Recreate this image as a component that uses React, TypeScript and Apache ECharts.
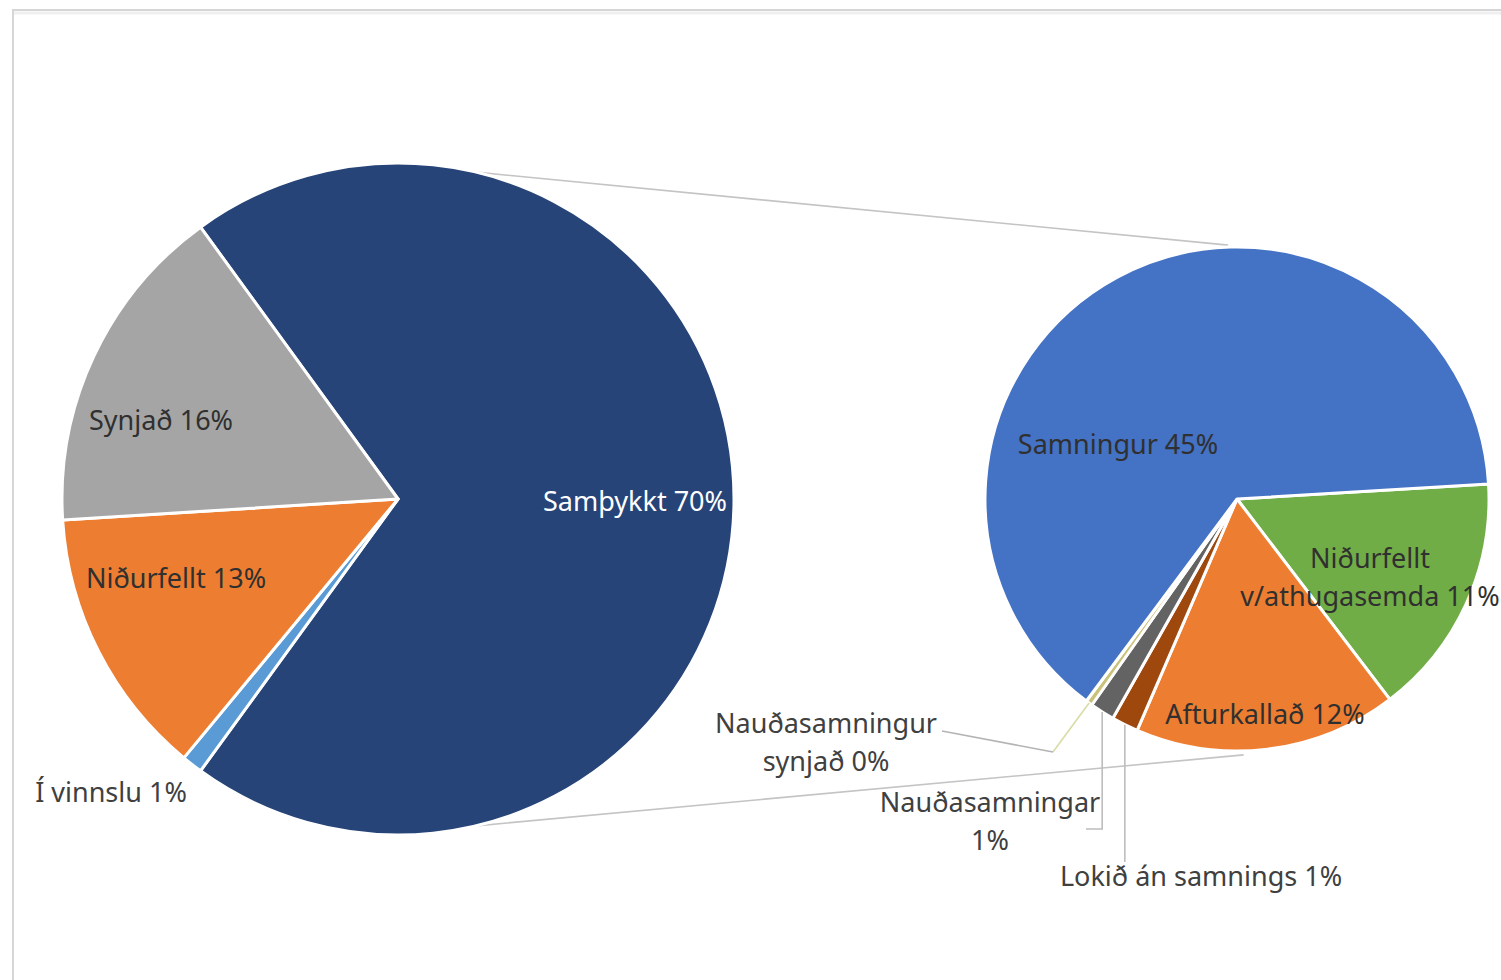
import React, { useEffect, useRef } from 'react';
import * as echarts from 'echarts';

// ---------- data ----------
const mainCategories = ['Samþykkt', 'Í vinnslu', 'Niðurfellt', 'Synjað'];
const mainValues = [70, 1, 13, 16];

const subCategories = [
  'Niðurfellt v/athugasemda',
  'Afturkallað',
  'Lokið án samnings',
  'Nauðasamningar',
  'Nauðasamningur synjað',
  'Samningur',
];
const subValues = [10.9, 11.8, 1.2, 1.1, 0.3, 44.7];

// label line breaks (display text)
const labelText: Record<string, string> = {
  'Niðurfellt v/athugasemda': 'Niðurfellt\nv/athugasemda {p}',
  'Nauðasamningar': 'Nauðasamningar\n{p}',
  'Nauðasamningur synjað': 'Nauðasamningur\nsynjað {p}',
};

// ---------- style / layout ----------
const mainColors = ['#264478', '#5B9BD5', '#ED7D31', '#A5A5A5'];
const subColors = ['#70AD47', '#ED7D31', '#9E480E', '#636363', '#C9C27A', '#4472C4'];
const mainLabelColors = ['#ffffff', '#404040', '#303030', '#303030'];
const subLabelColors = ['#303030', '#303030', '#404040', '#404040', '#404040', '#303030'];

const mainCenter = [398, 499];
const mainR = 336;
const mainStart = 126;
const subCenter = [1237, 499];
const subR = 252;
const subStart = 3.4;

const mainLabelPos = [
  [635, 500],
  [111, 791],
  [176, 577],
  [161, 419],
];
const subLabelPos = [
  [1370, 576],
  [1265, 713],
  [1201, 875],
  [990, 820],
  [826, 741],
  [1118, 443],
];

const FONT = '"Noto Sans", "Open Sans", sans-serif';
const FS = 27;

function midAngles(values: number[], start: number) {
  const total = values.reduce((a, b) => a + b, 0);
  let a = start;
  return values.map((v) => {
    const span = (v / total) * 360;
    const mid = a - span / 2;
    a -= span;
    return mid;
  });
}

function polar(c: number[], r: number, deg: number) {
  const t = (deg * Math.PI) / 180;
  return [c[0] + r * Math.cos(t), c[1] - r * Math.sin(t)];
}

function fmt(name: string, value: number) {
  const p = Math.round(value) + '%';
  const tpl = labelText[name];
  return tpl ? tpl.replace('{p}', p) : name + ' ' + p;
}

const App = () => {
  const ref = useRef<HTMLDivElement>(null);
  useEffect(() => {
    const chart = echarts.init(ref.current!, null, { renderer: 'svg' });

    const subMids = midAngles(subValues, subStart);
    const rimSynjad = polar(subCenter, subR, subMids[4]);
    const rimNaud = polar(subCenter, subR, subMids[3]);
    const rimLokid = polar(subCenter, subR, subMids[2]);

    // connector lines between pies
    const topL = polar(mainCenter, mainR, 76.6);
    const topR = polar(subCenter, subR + 2, 92);
    const botL = polar(mainCenter, mainR, -76.6);
    const botR = polar(subCenter, subR + 4, -88.5);

    const lineStyle = { stroke: '#c4c4c4', lineWidth: 1.6, fill: null };

    const option: any = {
      animation: false,
      backgroundColor: '#ffffff',
      textStyle: { fontFamily: FONT },
      graphic: [
        {
          type: 'rect',
          z: -10,
          shape: { x: 13, y: 10, width: 1600, height: 1000 },
          style: { fill: '#ffffff', stroke: '#d6d6d6', lineWidth: 2 },
        },
        {
          type: 'line',
          z: -9,
          shape: { x1: 14, y1: 13, x2: 1501, y2: 13 },
          style: { stroke: '#efefef', lineWidth: 3 },
        },
        { type: 'line', z: 1, shape: { x1: topL[0], y1: topL[1], x2: topR[0], y2: topR[1] }, style: lineStyle },
        { type: 'line', z: 1, shape: { x1: botL[0], y1: botL[1], x2: botR[0], y2: botR[1] }, style: lineStyle },
        {
          type: 'polyline',
          z: 5,
          shape: { points: [rimSynjad, [1053, 752]] },
          style: { stroke: '#d9dca4', lineWidth: 1.6, fill: null },
        },
        {
          type: 'polyline',
          z: 5,
          shape: { points: [[1053, 752], [942, 731]] },
          style: { stroke: '#b4b4b4', lineWidth: 1.6, fill: null },
        },
        {
          type: 'polyline',
          z: 5,
          shape: { points: [rimNaud, [rimNaud[0], 829], [1086, 829]] },
          style: { stroke: '#bdbdbd', lineWidth: 1.6, fill: null },
        },
        {
          type: 'polyline',
          z: 5,
          shape: { points: [rimLokid, [rimLokid[0], 862]] },
          style: { stroke: '#bdbdbd', lineWidth: 1.6, fill: null },
        },
      ],
      series: [
        {
          type: 'pie',
          name: 'main',
          center: mainCenter,
          radius: mainR,
          startAngle: mainStart,
          clockwise: true,
          avoidLabelOverlap: false,
          silent: true,
          itemStyle: { borderColor: '#ffffff', borderWidth: 3 },
          label: {
            show: true,
            position: 'inside',
            fontFamily: FONT,
            fontSize: FS,
            lineHeight: 38,
            formatter: (p: any) => fmt(p.name, p.value),
          },
          labelLine: { show: false },
          labelLayout: (params: any) => {
            const pos = mainLabelPos[params.dataIndex];
            return { x: pos[0], y: pos[1], align: 'center', verticalAlign: 'middle' };
          },
          data: mainCategories.map((n, i) => ({
            name: n,
            value: mainValues[i],
            itemStyle: { color: mainColors[i] },
            label: { color: mainLabelColors[i] },
          })),
        },
        {
          type: 'pie',
          name: 'sub',
          center: subCenter,
          radius: subR,
          startAngle: subStart,
          clockwise: true,
          avoidLabelOverlap: false,
          silent: true,
          itemStyle: { borderColor: '#ffffff', borderWidth: 3 },
          label: {
            show: true,
            position: 'inside',
            fontFamily: FONT,
            fontSize: FS,
            lineHeight: 38,
            formatter: (p: any) => fmt(p.name, p.value),
          },
          labelLine: { show: false },
          labelLayout: (params: any) => {
            const pos = subLabelPos[params.dataIndex];
            return { x: pos[0], y: pos[1], align: 'center', verticalAlign: 'middle' };
          },
          data: subCategories.map((n, i) => ({
            name: n,
            value: subValues[i],
            itemStyle: { color: subColors[i] },
            label: { color: subLabelColors[i] },
          })),
        },
      ],
    };
    chart.setOption(option);
    return () => chart.dispose();
  }, []);
  return (
    <div
      ref={ref}
      style={{ position: 'fixed', left: 0, top: 0, width: 1501, height: 980 }}
    />
  );
};

export default App;
